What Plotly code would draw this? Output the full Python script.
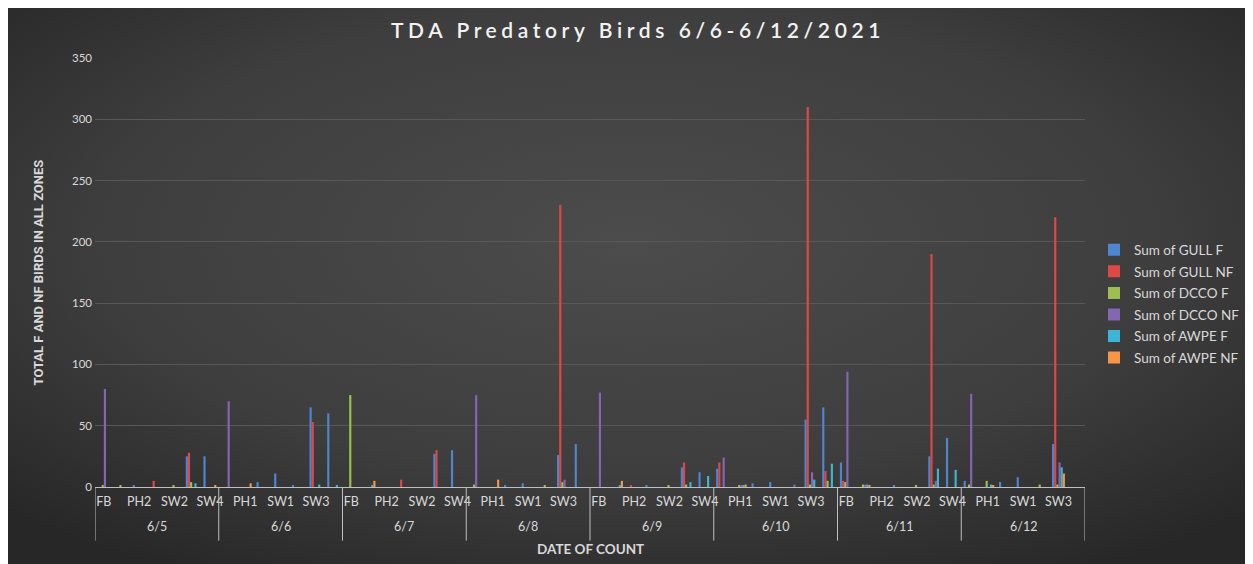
import base64
import plotly.graph_objects as go

dates = ["6/5", "6/6", "6/7", "6/8", "6/9", "6/10", "6/11", "6/12"]
zones = ["FB", "PH1", "PH2", "SW1", "SW2", "SW3", "SW4"]
y_ticks = [0, 50, 100, 150, 200, 250, 300, 350]

# values per date, zones in order FB, PH1, PH2, SW1, SW2, SW3, SW4
gull_f = [
    [0, 0, 1, 0, 0, 25, 25],
    [0, 0, 4, 11, 1, 65, 60],
    [0, 0, 0, 0, 0, 27, 30],
    [0, 0, 1, 3, 0, 26, 35],
    [0, 0, 0, 1, 0, 16, 12],
    [15, 0, 3, 4, 0, 55, 65],
    [20, 0, 0, 1, 0, 25, 40],
    [5, 0, 4, 8, 0, 35, 0],
]
gull_nf = [
    [0, 0, 0, 5, 0, 28, 0],
    [0, 0, 0, 0, 0, 53, 0],
    [0, 0, 0, 6, 0, 30, 0],
    [0, 0, 0, 0, 0, 230, 0],
    [0, 0, 1, 0, 0, 20, 0],
    [20, 0, 0, 0, 0, 310, 13],
    [5, 0, 0, 0, 0, 190, 0],
    [0, 0, 0, 0, 0, 220, 0],
]
dcco_f = [
    [1, 1, 0, 0, 1, 4, 0],
    [0, 0, 0, 0, 0, 0, 0],
    [75, 0, 0, 0, 0, 0, 0],
    [2, 0, 0, 0, 1, 4, 0],
    [0, 0, 0, 0, 1, 2, 0],
    [0, 1, 0, 0, 0, 2, 5],
    [4, 2, 0, 0, 1, 2, 0],
    [2, 5, 0, 0, 2, 2, 0],
]
dcco_nf = [
    [80, 0, 0, 0, 0, 0, 0],
    [70, 0, 0, 0, 0, 0, 0],
    [0, 0, 0, 0, 0, 0, 0],
    [75, 0, 0, 0, 0, 6, 0],
    [77, 0, 0, 0, 0, 0, 0],
    [24, 1, 0, 0, 2, 12, 0],
    [94, 2, 0, 0, 0, 5, 0],
    [76, 0, 0, 0, 0, 20, 0],
]
awpe_f = [
    [0, 0, 0, 0, 0, 3, 0],
    [0, 0, 0, 0, 0, 2, 1],
    [0, 1, 0, 0, 0, 0, 0],
    [0, 0, 0, 0, 0, 0, 0],
    [0, 1, 0, 0, 0, 4, 9],
    [0, 1, 0, 0, 0, 6, 19],
    [0, 2, 0, 0, 0, 15, 14],
    [0, 2, 0, 0, 0, 16, 0],
]
awpe_nf = [
    [0, 0, 0, 0, 0, 0, 1],
    [0, 3, 0, 0, 0, 0, 0],
    [0, 5, 0, 0, 0, 0, 0],
    [0, 6, 0, 0, 0, 0, 0],
    [0, 5, 0, 0, 0, 0, 0],
    [0, 2, 0, 0, 0, 0, 0],
    [0, 1, 0, 0, 0, 0, 0],
    [0, 1, 0, 0, 0, 11, 0],
]

series_names = ["Sum of GULL F", "Sum of GULL NF", "Sum of DCCO F",
                "Sum of DCCO NF", "Sum of AWPE F", "Sum of AWPE NF"]
series_data = [gull_f, gull_nf, dcco_f, dcco_nf, awpe_f, awpe_nf]
series_colors = ["#4F86D0", "#E04848", "#9BC04F", "#8466B3", "#3DB6D6", "#F79646"]

nz = len(zones)
x_idx = [g * nz + z for g in range(len(dates)) for z in range(nz)]

fig = go.Figure()
for name, data, color in zip(series_names, series_data, series_colors):
    vals = [v for row in data for v in row]
    fig.add_trace(go.Bar(x=x_idx, y=vals, name=name, legendgroup=name,
                         marker=dict(color=color, line=dict(width=0))))

# the page body adds an 8px white margin around the figure
W, H = 1245, 556
ml, mr, mt, mb = 87, 168, 50, 77
pw, ph = W - ml - mr, H - mt - mb

svg = f'''<svg xmlns="http://www.w3.org/2000/svg" width="{W}" height="{H}" viewBox="0 0 {W} {H}" preserveAspectRatio="none">
<defs><radialGradient id="g" cx="50%" cy="42%" r="70%">
<stop offset="0" stop-color="#4c4c4c"/><stop offset="0.6" stop-color="#3e3e3e"/><stop offset="1" stop-color="#272727"/></radialGradient></defs>
<rect width="{W}" height="{H}" fill="url(#g)"/></svg>'''
src = "data:image/svg+xml;base64," + base64.b64encode(svg.encode()).decode()

label_color = "#d9d9d9"
font_family = "Lato, Open Sans, sans-serif"

shapes = []
for g in range(len(dates) + 1):
    shapes.append(dict(type="line", xref="x", yref="paper",
                       x0=g * nz - 0.5, x1=g * nz - 0.5, y0=0, y1=-0.125,
                       line=dict(color="#bfbfbf", width=1)))

annotations = []
for g, d in enumerate(dates):
    annotations.append(dict(x=g * nz + (nz - 1) / 2, y=-0.092, xref="x", yref="paper",
                            text=d, showarrow=False,
                            font=dict(color=label_color, size=12.5, family=font_family),
                            yanchor="middle"))
annotations.append(dict(x=0.5, y=-0.145, xref="paper", yref="paper",
                        text="<b>DATE OF COUNT</b>", showarrow=False,
                        font=dict(color=label_color, size=13.5, family=font_family),
                        yanchor="middle"))
annotations.append(dict(x=-57 / pw, y=0.5, xref="paper", yref="paper",
                        text="<b>TOTAL F AND NF BIRDS IN ALL ZONES</b>", showarrow=False,
                        textangle=-90,
                        font=dict(color=label_color, size=13,
                                  family="Liberation Sans Narrow, Roboto, sans-serif"),
                        xanchor="center", yanchor="middle"))

tickvals = list(range(0, len(x_idx), 2))
ticktext = [zones[i % nz] for i in tickvals]

fig.update_layout(
    width=W, height=H,
    margin=dict(l=ml, r=mr, t=mt, b=mb, autoexpand=False),
    paper_bgcolor="#3a3a3a",
    plot_bgcolor="rgba(0,0,0,0)",
    barmode="group", bargap=0.27, bargroupgap=0,
    title=dict(text='<span style="letter-spacing:4.6px">TDA Predatory Birds 6/6-6/12/2021</span>',
               x=(630 - ml) / pw, xref="paper", xanchor="center",
               y=1 - 23 / H, yref="container", yanchor="middle",
               font=dict(color="#f2f2f2", size=21, family=font_family, weight=600)),
    xaxis=dict(range=[-0.5, len(x_idx) - 0.5], tickmode="array", tickvals=tickvals,
               ticktext=ticktext, showgrid=False, zeroline=False, showline=True,
               linecolor="#bfbfbf", linewidth=1, ticks="",
               tickfont=dict(color=label_color, size=12.5, family=font_family),
               ticklabelstandoff=3, tickangle=0),
    yaxis=dict(range=[0, 350], tickmode="array", tickvals=y_ticks,
               showgrid=True, gridcolor="#585858", gridwidth=1, zeroline=False,
               showline=False, ticks="", ticklabelstandoff=2,
               tickfont=dict(color=label_color, size=11.5, family=font_family)),
    legend=dict(x=(1094 - 8 - ml) / pw, xanchor="left", y=(487.5 - 304.5) / ph, yanchor="middle",
                bgcolor="rgba(0,0,0,0)", tracegroupgap=1,
                font=dict(color=label_color, size=13.5, family=font_family)),
    showlegend=True,
    shapes=shapes,
    annotations=annotations,
    images=[dict(source=src, xref="paper", yref="paper", x=-ml / pw, y=1 + mt / ph,
                 sizex=W / pw, sizey=H / ph, xanchor="left", yanchor="top",
                 sizing="stretch", layer="below")],
)

fig.write_html("out.html")
